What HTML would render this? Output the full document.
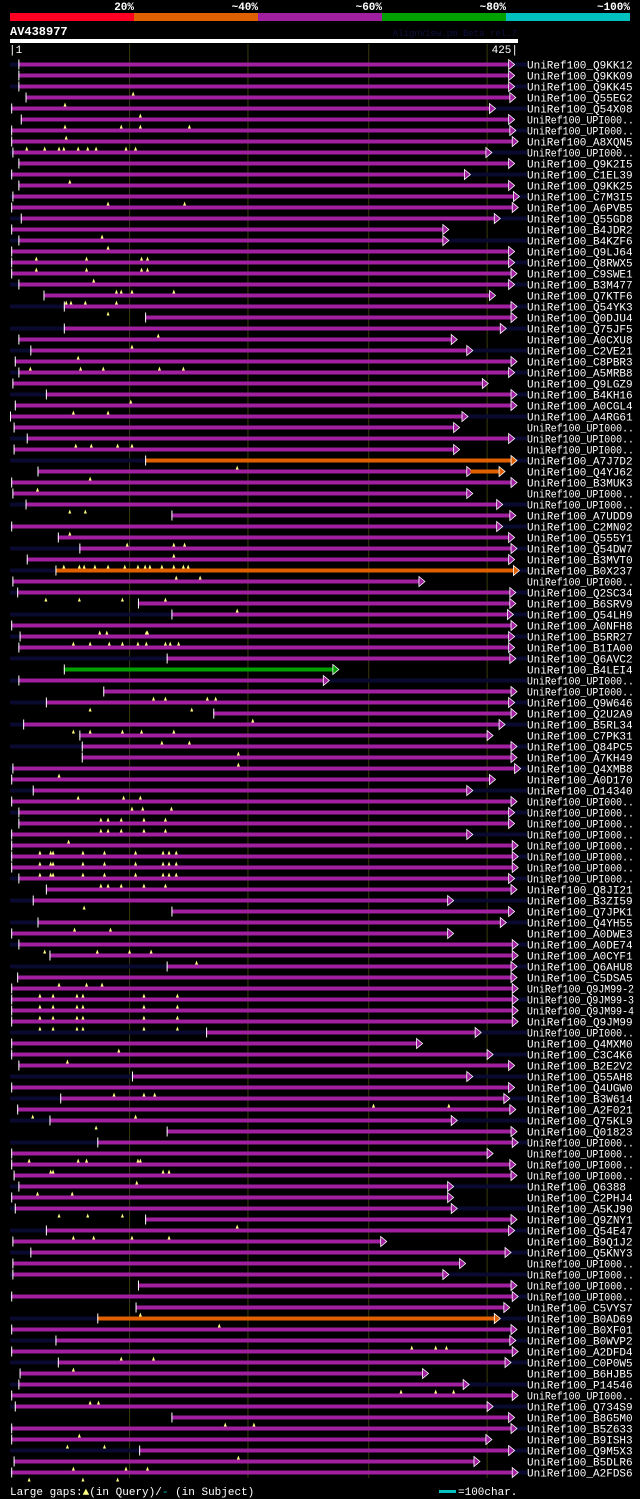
<!DOCTYPE html>
<html><head><meta charset="utf-8">
<style>
html,body{margin:0;padding:0;background:#000;}
svg{display:block;}
text{font-family:"Liberation Mono",monospace;}
</style></head>
<body>
<svg id="chart" width="640" height="1499" viewBox="0 0 640 1499" xmlns="http://www.w3.org/2000/svg">
<rect x="0" y="0" width="640" height="1499" fill="#000"/>
<g id="header">
  <rect x="10" y="13" width="124" height="8" fill="#ff0022"/>
  <rect x="134" y="13" width="124" height="8" fill="#e06000"/>
  <rect x="258" y="13" width="124" height="8" fill="#a020a0"/>
  <rect x="382" y="13" width="124" height="8" fill="#00a000"/>
  <rect x="506" y="13" width="124" height="8" fill="#00c0c0"/>
  <text x="134" y="10" fill="#fff" font-size="11" font-weight="bold" text-anchor="end">20%</text>
  <text x="258" y="10" fill="#fff" font-size="11" font-weight="bold" text-anchor="end">~40%</text>
  <text x="382" y="10" fill="#fff" font-size="11" font-weight="bold" text-anchor="end">~60%</text>
  <text x="506" y="10" fill="#fff" font-size="11" font-weight="bold" text-anchor="end">~80%</text>
  <text x="630" y="10" fill="#fff" font-size="11" font-weight="bold" text-anchor="end">~100%</text>
  <text x="10" y="35" fill="#fff" font-size="12" font-weight="bold">AV438977</text>
  <text x="517" y="36" fill="#101040" font-size="9" text-anchor="end">AlignView.pm Beta rel.7</text>
  <rect x="10" y="39" width="508" height="4" fill="#fff"/>
  <text x="9" y="53" fill="#fff" font-size="11">|1</text>
  <text x="518" y="53" fill="#fff" font-size="11" text-anchor="end">425|</text>
</g>
<g id="grid"></g>
<g id="rows"></g>
<g id="footer">
  <text x="10" y="1495" fill="#fff" font-size="11">Large gaps:<tspan fill="#ffff80">▲</tspan>(in Query)/<tspan fill="#00c0c0">-</tspan> (in Subject)</text>
  <rect x="439" y="1490" width="17" height="3" fill="#00c0c0"/>
  <text x="458" y="1495" fill="#fff" font-size="11">=100char.</text>
</g>
</svg>
<script>
const names=["UniRef100_Q9KK12","UniRef100_Q9KK09","UniRef100_Q9KK45","UniRef100_Q55EG2","UniRef100_Q54X08","UniRef100_UPI000..","UniRef100_UPI000..","UniRef100_A8XQN5","UniRef100_UPI000..","UniRef100_Q9K2I5",
"UniRef100_C1EL39","UniRef100_Q9KK25","UniRef100_C7M3I5","UniRef100_A6PVB5","UniRef100_Q55GD8","UniRef100_B4JDR2","UniRef100_B4KZF6","UniRef100_Q9LJ64","UniRef100_Q8RWX5","UniRef100_C9SWE1",
"UniRef100_B3M477","UniRef100_Q7KTF6","UniRef100_Q54YK3","UniRef100_Q0DJU4","UniRef100_Q75JF5","UniRef100_A0CXU8","UniRef100_C2VE21","UniRef100_C8PBR3","UniRef100_A5MRB8","UniRef100_Q9LGZ9",
"UniRef100_B4KH16","UniRef100_A0CGL4","UniRef100_A4RG61","UniRef100_UPI000..","UniRef100_UPI000..","UniRef100_UPI000..","UniRef100_A7J7D2","UniRef100_Q4YJ62","UniRef100_B3MUK3","UniRef100_UPI000..",
"UniRef100_UPI000..","UniRef100_A7UDD9","UniRef100_C2MN02","UniRef100_Q555Y1","UniRef100_Q54DW7","UniRef100_B3MVT0","UniRef100_B0X237","UniRef100_UPI000..","UniRef100_Q2SC34","UniRef100_B6SRV9",
"UniRef100_Q54LH9","UniRef100_A0NFH8","UniRef100_B5RR27","UniRef100_B1IA00","UniRef100_Q6AVC2","UniRef100_B4LEI4","UniRef100_UPI000..","UniRef100_UPI000..","UniRef100_Q9W646","UniRef100_Q2U2A9",
"UniRef100_B5RL34","UniRef100_C7PK31","UniRef100_Q84PC5","UniRef100_A7KH49","UniRef100_Q4XMB8","UniRef100_A0D170","UniRef100_O14340","UniRef100_UPI000..","UniRef100_UPI000..","UniRef100_UPI000..",
"UniRef100_UPI000..","UniRef100_UPI000..","UniRef100_UPI000..","UniRef100_UPI000..","UniRef100_UPI000..","UniRef100_Q8JI21","UniRef100_B3ZI59","UniRef100_Q7JPK1","UniRef100_Q4YH55","UniRef100_A0DWE3",
"UniRef100_A0DE74","UniRef100_A0CYF1","UniRef100_Q6AHU8","UniRef100_C5DSA5","UniRef100_Q9JM99-2","UniRef100_Q9JM99-3","UniRef100_Q9JM99-4","UniRef100_Q9JM99","UniRef100_UPI000..","UniRef100_Q4MXM0",
"UniRef100_C3C4K6","UniRef100_B2E2V2","UniRef100_Q55AH8","UniRef100_Q4UGW0","UniRef100_B3W614","UniRef100_A2F021","UniRef100_Q75KL9","UniRef100_Q01823","UniRef100_UPI000..","UniRef100_UPI000..",
"UniRef100_UPI000..","UniRef100_UPI000..","UniRef100_Q6388","UniRef100_C2PHJ4","UniRef100_A5KJ90","UniRef100_Q9ZNY1","UniRef100_Q54E47","UniRef100_B9Q1J2","UniRef100_Q5KNY3","UniRef100_UPI000..",
"UniRef100_UPI000..","UniRef100_UPI000..","UniRef100_UPI000..","UniRef100_C5VYS7","UniRef100_B0AD69","UniRef100_B0XF01","UniRef100_B0WVP2","UniRef100_A2DFD4","UniRef100_C0P0W5","UniRef100_B6HJB5",
"UniRef100_P14546","UniRef100_UPI000..","UniRef100_Q734S9","UniRef100_B8G5M0","UniRef100_B5Z633","UniRef100_B9ISH3","UniRef100_Q9M5X3","UniRef100_B5DLR6","UniRef100_A2FDS6"];
const starts=[8,8,8,14,2,10,2,2,3,8, 2,8,3,2,10,2,8,2,2,2, 8,29,46,114,46,8,18,5,8,3, 31,5,1,4,15,4,114,24,2,3,
14,136,2,41,59,15,39,3,7,108, 136,2,9,8,132,46,8,79,31,171, 12,59,61,61,3,2,20,2,8,8, 2,2,2,2,8,31,20,136,24,2,
8,34,132,7,2,2,2,2,165,2, 2,8,103,2,43,7,34,132,74,2, 2,4,8,2,5,114,31,3,18,3, 3,108,2,106,74,2,39,2,41,9, 8,2,5,136,2,2,109,4,2];
const ends=[418,418,418,419,402,418,419,421,399,418, 381,418,422,421,406,363,363,418,418,420, 418,402,420,420,411,370,383,420,418,396, 420,420,379,372,418,372,420,383,420,383,
408,419,408,418,420,418,422,343,419,419, 417,420,418,418,419,271,263,420,418,420, 410,400,420,420,423,402,383,420,418,418, 383,421,421,421,418,420,367,418,411,367,
421,421,420,420,421,421,421,421,390,341, 400,418,383,418,414,419,370,420,421,400, 419,420,367,367,370,420,418,311,415,377, 363,420,421,414,406,420,419,421,415,346, 380,421,400,418,420,399,418,389,421];
const identity=["p","p","p","p","p","p","p","p","p","p", "p","p","p","p","p","p","p","p","p","p", "p","p","p","p","p","p","p","p","p","p", "p","p","p","p","p","p","o","p","p","p",
"p","p","p","p","p","p","o","p","p","p", "p","p","p","p","p","g","p","p","p","p", "p","p","p","p","p","p","p","p","p","p", "p","p","p","p","p","p","p","p","p","p",
"p","p","p","p","p","p","p","p","p","p", "p","p","p","p","p","p","p","p","p","p", "p","p","p","p","p","p","p","p","p","p", "p","p","p","p","o","p","p","p","p","p", "p","p","p","p","p","p","p","p","p"];
const hasSubjectExtent=[1,0,1,0,1,0,1,0,1,0, 1,0,1,0,1,0,1,0,1,0, 1,0,1,0,1,0,1,0,1,0, 1,0,1,0,1,0,1,0,0,0, 1,0,1,0,1,0,1,0,1,0, 1,0,1,0,1,0,1,0,1,0, 1,0,1,0,1,0,1,0,1,0, 1,0,1,0,1,0,1,0,1,0,
1,0,1,0,0,1,0,0,1,0, 1,0,1,0,1,0,1,0,1,0, 0,0,1,0,1,0,1,0,1,0, 1,0,1,0,1,0,1,0,1,0, 1,0,1,0,1,0,1,0,1];
const queryGaps=[[],[],[104],[47],[110],[47,94,110,151],[48],[15,30,42,46,58,66,73,98,106],[],[],
[51],[],[83,147],[],[],[78],[83],[23,65,111,116],[23,65,111,116],[71],
[90,94,103,138],[48,52,64,90],[83],[],[125],[103],[58],[18,60,79,126,146],[],[],
[102],[54,83],[],[],[56,69,91,103],[],[191],[68],[24],[],
[51,64],[],[51],[99,138,147],[138],[46,59,63,72,83,97,108,114,118,128,138,146,150],[140,160],[],[31,59,95,131],[191],
[],[76,82,115,116],[54,68,84,95,108,115,131,135,142],[],[],[],[],[121,131,166,173],[68,153],[204],
[54,68,95,111,138],[128,151],[192],[192],[42],[],[58,96,110],[103,112,136],[77,83,94,113,131],[77,83,94,113,131],
[50],[26,35,37,62,80,106,129,134,140],[26,35,37,62,80,106,129,134,140],[26,35,37,62,80,106,129,134,140],[77,83,94,113,131],[],[63],[],[55,85],[],
[30,74,101,119],[157],[],[42,65,78],[26,37,57,62,113,141],[26,37,57,62,113,141],[26,37,57,62,113,141],[26,37,57,62,113,141],[],[92],
[49],[],[],[88,113,122],[305,368],[20,106],[73],[],[],[17,58,65,108,110],
[35,37,129,134],[107],[24,53],[],[42,66,95],[191],[54,71,103,134],[],[],[],
[],[],[],[110],[176],[],[337,357,366],[94,121],[54],[],
[328,357,372],[68,75],[],[181,205],[59],[49,80],[192],[54,98,116],[17,62,91]];
const extension={37:[386,410]};
const gridTicks=[101,200,301,400];
const QLEN=425;
const X0=10, X1=517, ROW0=64.5, ROWH=11;
function xs(p){return X0+(p-1)*(X1-X0)/(QLEN-1);}
function ys(i){return ROW0+i*ROWH;}
const NS="http://www.w3.org/2000/svg";
const colorMap={p:"#a020a0",o:"#e06000",g:"#00a000"};
function mk(tag,attrs,parent){const e=document.createElementNS(NS,tag);for(const k in attrs)e.setAttribute(k,attrs[k]);parent.appendChild(e);return e;}
const grid=document.getElementById("grid");
gridTicks.forEach(function(t){
  const l=mk("line",{x1:xs(t),x2:xs(t),y1:44,y2:1478,stroke:"#3a3a10","stroke-width":1},grid);
  
  
});
const rows=document.getElementById("rows");
names.forEach(function(n,i){
  const y=ys(i);
  const g=mk("g",{},rows);
  
  
  if(hasSubjectExtent[i]){
    const bg=mk("rect",{x:X0,y:y-2,width:X1+10-X0,height:4,fill:"#0a0a30"},g);
    
    
  }
  const c=colorMap[identity[i]];
  const x1=xs(starts[i]), x2=xs(ends[i]);
  const bar=mk("rect",{x:x1,y:y-2,width:Math.max(1,x2-x1),height:4,fill:c},g);
  
  
  const tick=mk("line",{x1:x1+0.5,x2:x1+0.5,y1:y-5,y2:y+5,stroke:"#fff","stroke-width":1},g);
  
  
  const tri=mk("polygon",{points:(x2)+","+(y-5)+" "+(x2+6)+","+y+" "+(x2)+","+(y+5),fill:c,stroke:"#fff","stroke-width":0.8},g);
  
  
  if(extension[i]){
    const e=extension[i];
    const ex=mk("rect",{x:xs(e[0]),y:y-2,width:xs(e[1])-xs(e[0]),height:4,fill:"#e06000"},g);
    
    
    const et=mk("polygon",{points:xs(e[1])+","+(y-5)+" "+(xs(e[1])+6)+","+y+" "+xs(e[1])+","+(y+5),fill:"#e06000",stroke:"#fff","stroke-width":0.8},g);
    
    
  }
  queryGaps[i].forEach(function(p){
    const gx=xs(p);
    const m=mk("polygon",{points:(gx-1.5)+","+(y+9)+" "+gx+","+(y+5)+" "+(gx+1.5)+","+(y+9),fill:"#ffff80"},g);
    
    
  });
  const t=mk("text",{x:527,y:y+4,fill:"#fff","font-size":11},g);
  t.textContent=n;
  if(n.length>16){t.setAttribute("textLength","107");t.setAttribute("lengthAdjust","spacingAndGlyphs");}
  
  
});
</script>
</body></html>
